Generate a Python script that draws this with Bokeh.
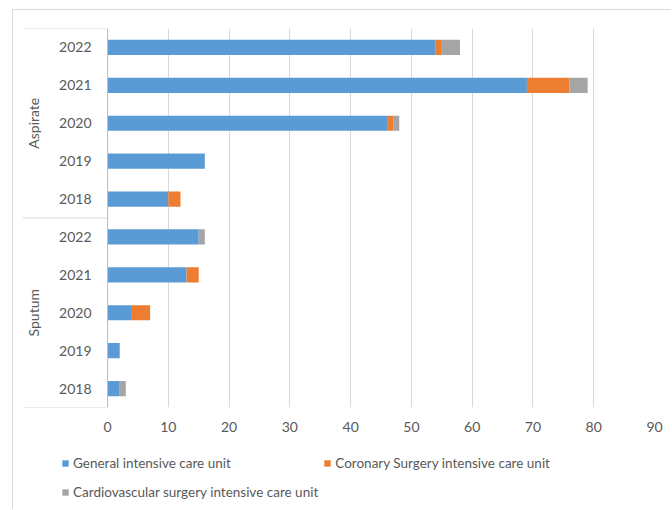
from bokeh.plotting import figure
from bokeh.layouts import column
from bokeh.models import (ColumnDataSource, Range1d, FixedTicker, Legend, LegendItem)
from bokeh.core.properties import value
from bokeh.embed import file_html
from bokeh.resources import INLINE

# ---- data ----
groups = ["Aspirate", "Sputum"]
years = ["2022", "2021", "2020", "2019", "2018"]
series = ["General intensive care unit",
          "Coronary Surgery intensive care unit",
          "Cardiovascular surgery intensive care unit"]
general_aspirate = [54, 69, 46, 16, 10]
coronary_aspirate = [1, 7, 1, 0, 2]
cardio_aspirate = [3, 3, 1, 0, 0]
general_sputum = [15, 13, 4, 2, 2]
coronary_sputum = [0, 2, 3, 0, 0]
cardio_sputum = [1, 0, 0, 0, 1]
x_ticks = [0, 10, 20, 30, 40, 50, 60, 70, 80, 90]

colors = ["#5b9bd5", "#ed7d31", "#a5a5a5"]
FONT = "Lato"
TXT = "#595959"
LINE = "#d9d9d9"
BORDER = "1px solid #d9d9d9"

# ---- build rows (top to bottom) ----
row_group, row_year = [], []
for g in groups:
    for yv in years:
        row_group.append(g)
        row_year.append(yv)
n = len(row_group)
ypos = [n - i - 0.5 for i in range(n)]
gen = general_aspirate + general_sputum
cor = coronary_aspirate + coronary_sputum
car = cardio_aspirate + cardio_sputum

src = ColumnDataSource(dict(y=ypos, year=row_year, gen=gen, cor=cor, car=car))

# ---- main chart ----
p = figure(width=659, height=430, output_backend="svg", toolbar_location=None,
           x_range=Range1d(-14, 90), y_range=Range1d(0, n),
           min_border_left=9, min_border_right=18, min_border_top=18,
           min_border_bottom=33)
p.margin = (9, 0, 0, 12)
p.styles = {"border-left": BORDER, "border-top": BORDER}
p.outline_line_color = None
p.background_fill_color = "white"
p.border_fill_color = "white"

p.hbar_stack(["gen", "cor", "car"], y="y", height=0.4, color=colors,
             line_color=None, source=src)

p.xgrid.ticker = FixedTicker(ticks=x_ticks)
p.xgrid.grid_line_color = LINE
p.ygrid.grid_line_color = None
p.xaxis.ticker = FixedTicker(ticks=x_ticks)
p.xaxis.axis_line_color = None
p.xaxis.major_tick_line_color = None
p.xaxis.minor_tick_line_color = None
p.xaxis.major_tick_out = 0
p.xaxis.major_label_standoff = 14
p.xaxis.major_label_text_font = FONT
p.xaxis.major_label_text_font_size = "14px"
p.xaxis.major_label_text_color = TXT
p.yaxis.visible = False

# year labels
p.text(x=0, y="y", text="year", source=src, x_offset=-16,
       text_align="right", text_baseline="middle",
       text_font=value(FONT), text_font_size="14px", text_color=TXT)

# group labels
gsrc = ColumnDataSource(dict(
    y=[n - (i * len(years)) - len(years) / 2 for i in range(len(groups))],
    g=groups))
p.text(x=-14, y="y", text="g", source=gsrc, x_offset=11, angle=1.5708,
       text_align="center", text_baseline="middle",
       text_font=value(FONT), text_font_size="14px", text_color=TXT)

# category-axis box lines
bounds = [n - i * len(years) for i in range(len(groups) + 1)]
p.segment(x0=-14, x1=0, y0=bounds, y1=bounds, line_color=LINE, line_width=1)
p.segment(x0=[0], x1=[0], y0=[0], y1=[n], line_color="#bfbfbf", line_width=1)

# ---- legend strip (same stacked series, kept out of its visible ranges) ----
p2 = figure(width=659, height=70, output_backend="svg", toolbar_location=None,
            x_range=Range1d(1000, 1001), y_range=Range1d(1000, 1001),
            x_axis_type=None, y_axis_type=None,
            min_border_left=0, min_border_right=0, min_border_top=0,
            min_border_bottom=0)
p2.margin = (0, 0, 0, 12)
p2.styles = {"border-left": BORDER}
p2.outline_line_color = None
p2.grid.visible = False
p2.background_fill_color = "white"
p2.border_fill_color = "white"

lrs = p2.hbar_stack(["gen", "cor", "car"], y="y", height=0.4, color=colors,
                    line_color=None, source=src)

legend = Legend(items=[LegendItem(label=s, renderers=[r]) for s, r in zip(series, lrs)],
                location=(39, 5), orientation="horizontal", ncols=2,
                glyph_width=8, glyph_height=8, label_standoff=4, spacing=5,
                padding=0, margin=0, border_line_color=None,
                background_fill_alpha=0, label_height=24,
                label_text_font=FONT, label_text_font_size="13.5px",
                label_text_color=TXT)
p2.add_layout(legend, "center")

layout = column(p, p2, spacing=0)

open("out.html", "w").write(file_html(layout, INLINE))
